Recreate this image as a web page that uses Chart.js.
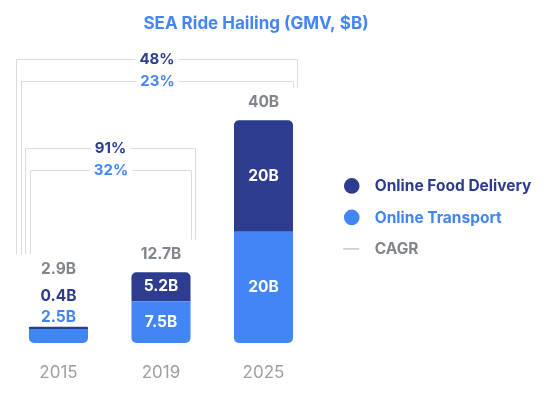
<!DOCTYPE html>
<html>
<head>
<meta charset="utf-8">
<script src="https://cdn.jsdelivr.net/npm/chart.js@4/dist/chart.umd.min.js"></script>
<style>
  html, body { margin: 0; padding: 0; background: #ffffff; }
  #wrap { width: 558px; height: 394px; position: relative; }
</style>
</head>
<body>
<div id="wrap"><canvas id="c"></canvas></div>
<script>
// ---- data ----
const titleText = 'SEA Ride Hailing (GMV, $B)';
const years = ['2015', '2019', '2025'];
const onlineTransport = [2.5, 7.5, 20];
const onlineFoodDelivery = [0.4, 5.2, 20];
const seriesNames = ['Online Transport', 'Online Food Delivery'];
const cagrLabel = 'CAGR';
// CAGR brackets: from year -> to year, food %, transport %
const cagrFrom = ['2015', '2015'];
const cagrTo = ['2019', '2025'];
const cagrFood = [91, 48];
const cagrTransport = [32, 23];

// ---- styles ----
const DARK = '#2e3c8f';
const BLUE = '#4285f4';
const GRAY_TEXT = '#80868b';
const TICK_GRAY = '#9aa0a6';
const LINE_GRAY = '#dadce0';
const FONT = 'Inter, Roboto, "DejaVu Sans", sans-serif';

function fmtB(v) {
  const r = Math.round(v * 10) / 10;
  return (Number.isInteger(r) ? String(r) : r.toFixed(1)) + 'B';
}

const labelPlugin = {
  id: 'barLabels',
  afterDatasetsDraw(chart) {
    const ctx = chart.ctx;
    const mT = chart.getDatasetMeta(0);
    const mF = chart.getDatasetMeta(1);
    ctx.save();
    ctx.textAlign = 'center';
    ctx.textBaseline = 'middle';
    ctx.font = 'bold 15.5px ' + FONT;
    chart._totalLabelY = [];
    years.forEach((y, i) => {
      const bT = mT.data[i], bF = mF.data[i];
      const x = bT.x;
      const hT = bT.base - bT.y;
      const hF = bF.base - bF.y;
      const top = bF.y;
      let totalY;
      if (hT >= 24 && hF >= 24) {
        ctx.fillStyle = '#ffffff';
        ctx.fillText(fmtB(onlineTransport[i]), x, bT.y + hT / 2);
        ctx.fillText(fmtB(onlineFoodDelivery[i]), x, bF.y + hF / 2);
        totalY = top - 17.5;
      } else {
        ctx.fillStyle = BLUE;
        ctx.fillText(fmtB(onlineTransport[i]), x, top - 9.5);
        ctx.fillStyle = DARK;
        ctx.fillText(fmtB(onlineFoodDelivery[i]), x, top - 30.5);
        totalY = top - 57.5;
      }
      ctx.fillStyle = GRAY_TEXT;
      ctx.fillText(fmtB(onlineTransport[i] + onlineFoodDelivery[i]), x, totalY);
      chart._totalLabelY[i] = totalY;
    });
    ctx.restore();
  }
};

const bracketPlugin = {
  id: 'cagrBrackets',
  afterDraw(chart) {
    const ctx = chart.ctx;
    const meta = chart.getDatasetMeta(1);
    const area = chart.chartArea;
    const levels = [111, 22]; // pixel offsets of the food bracket below chart top
    ctx.save();
    ctx.lineWidth = 1;
    ctx.strokeStyle = LINE_GRAY;
    ctx.font = 'bold 15px ' + FONT;
    ctx.textAlign = 'center';
    ctx.textBaseline = 'middle';
    cagrFrom.forEach((fy, p) => {
      const i0 = years.indexOf(fy);
      const i1 = years.indexOf(cagrTo[p]);
      const b0 = meta.data[i0], b1 = meta.data[i1];
      const L = b0.x - b0.width / 2;
      const R = b1.x + b1.width / 2;
      const legBotL = chart._totalLabelY[i0] - 15;
      const legBotR = chart._totalLabelY[i1] - 15;
      const inner = (p === 0) ? 0 : 2;
      const rows = [
        { txt: cagrFood[p] + '%', color: DARK, xl: L + 1 - 4.5 * (inner + 1), xr: R + 4, y: area.top + levels[p] },
        { txt: cagrTransport[p] + '%', color: BLUE, xl: L + 1 - 4.5 * inner, xr: R, y: area.top + levels[p] + 22.5 }
      ];
      rows.forEach(r => {
        const xl = Math.round(r.xl) + 0.5, xr = Math.round(r.xr) + 0.5, y = Math.round(r.y) + 0.5;
        const cx = (xl + xr) / 2;
        const tw = ctx.measureText(r.txt).width;
        ctx.beginPath();
        ctx.moveTo(xl, legBotL);
        ctx.lineTo(xl, y);
        ctx.lineTo(cx - tw / 2 - 4, y);
        ctx.moveTo(cx + tw / 2 + 4, y);
        ctx.lineTo(xr, y);
        ctx.lineTo(xr, legBotR);
        ctx.stroke();
        ctx.fillStyle = r.color;
        ctx.fillText(r.txt, cx, r.y + 0.5);
      });
    });
    ctx.restore();
  }
};

const titleLegendPlugin = {
  id: 'titleLegend',
  afterDraw(chart) {
    const ctx = chart.ctx;
    const area = chart.chartArea;
    ctx.save();
    // title
    ctx.font = 'bold 17px ' + FONT;
    ctx.fillStyle = BLUE;
    ctx.textAlign = 'center';
    ctx.textBaseline = 'middle';
    ctx.fillText(titleText, 256, 23.5);
    // legend
    const ds = chart.data.datasets;
    const items = [
      { text: ds[1].label, color: ds[1].backgroundColor, type: 'circle' },
      { text: ds[0].label, color: ds[0].backgroundColor, type: 'circle' },
      { text: cagrLabel, color: GRAY_TEXT, type: 'line' }
    ];
    const px = area.right + 37;
    const py0 = (area.top + area.bottom) / 2 - 4;
    ctx.textAlign = 'left';
    ctx.font = 'bold 15.5px ' + FONT;
    items.forEach((it, k) => {
      const y = py0 + k * 31.5;
      if (it.type === 'circle') {
        ctx.fillStyle = it.color;
        ctx.beginPath();
        ctx.arc(px, y, 7.8, 0, Math.PI * 2);
        ctx.fill();
      } else {
        ctx.strokeStyle = '#c8cacd';
        ctx.lineWidth = 1.5;
        ctx.beginPath();
        ctx.moveTo(px - 8.5, y);
        ctx.lineTo(px + 7.5, y);
        ctx.stroke();
      }
      ctx.fillStyle = it.color;
      ctx.fillText(it.text, px + 23, y + 0.5);
    });
    ctx.restore();
  }
};

new Chart(document.getElementById('c'), {
  type: 'bar',
  data: {
    labels: years,
    datasets: [
      {
        label: seriesNames[0],
        data: onlineTransport,
        backgroundColor: BLUE,
        borderWidth: 0,
        borderSkipped: false,
        borderRadius: { topLeft: 0, topRight: 0, bottomLeft: 5, bottomRight: 5 }
      },
      {
        label: seriesNames[1],
        data: onlineFoodDelivery,
        backgroundColor: DARK,
        borderWidth: 0,
        borderSkipped: false,
        borderRadius: { topLeft: 5, topRight: 5, bottomLeft: 0, bottomRight: 0 }
      }
    ]
  },
  options: {
    responsive: true,
    maintainAspectRatio: false,
    animation: false,
    layout: { padding: { left: 7.25, right: 243.25, top: 36.8, bottom: -9.4 } },
    datasets: { bar: { barPercentage: 0.576, categoryPercentage: 1 } },
    plugins: {
      legend: { display: false },
      title: { display: false },
      tooltip: { enabled: false }
    },
    scales: {
      x: {
        stacked: true,
        grid: { display: false, drawTicks: false },
        border: { display: false },
        ticks: { color: TICK_GRAY, font: { family: FONT, size: 17 }, padding: 20 }
      },
      y: {
        stacked: true,
        display: false,
        min: 0,
        max: 55
      }
    }
  },
  plugins: [labelPlugin, bracketPlugin, titleLegendPlugin]
});
</script>
</body>
</html>
